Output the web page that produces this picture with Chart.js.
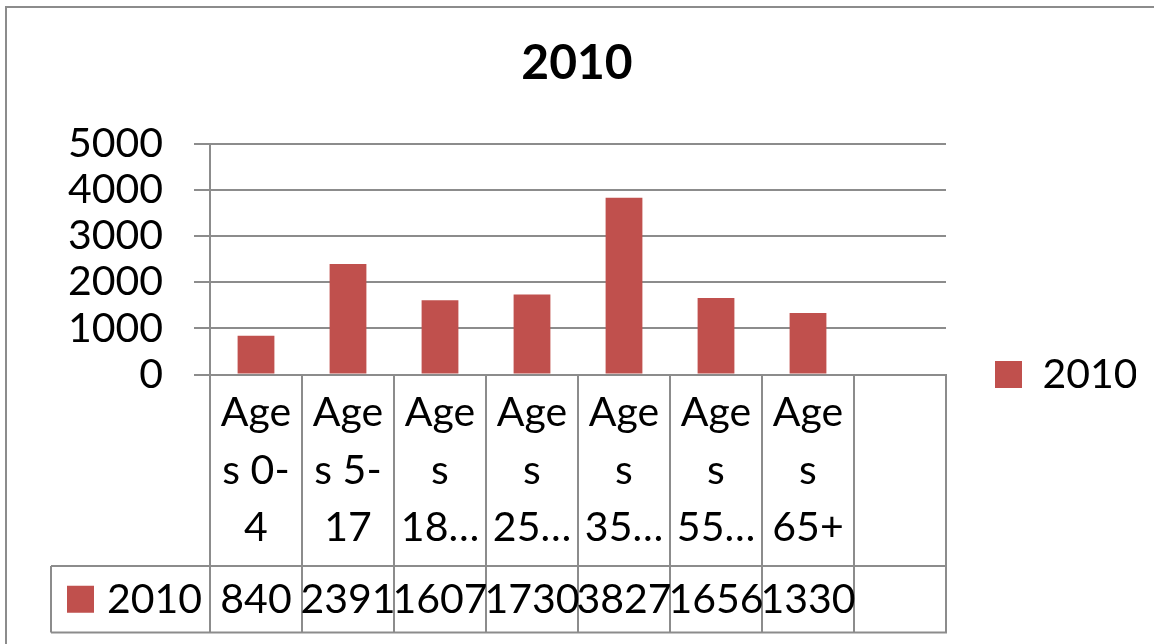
<!DOCTYPE html>
<html>
<head>
<meta charset="utf-8">
<title>2010</title>
<script src="https://cdn.jsdelivr.net/npm/chart.js@4.4.1/dist/chart.umd.min.js"></script>
<style>
  html, body { margin: 0; padding: 0; background: #ffffff; }
  canvas { display: block; }
</style>
</head>
<body>
<canvas id="chart" width="1154" height="644"></canvas>
<script>
// Series and categories
const seriesName = '2010';
const categoryLines = [
  ['Age', 's 0-', '4'],
  ['Age', 's 5-', '17'],
  ['Age', 's', '18…'],
  ['Age', 's', '25…'],
  ['Age', 's', '35…'],
  ['Age', 's', '55…'],
  ['Age', 's', '65+'],
  ['']
];
const values = [840, 2391, 1607, 1730, 3827, 1656, 1330, null];
const yMin = 0;
const yMax = 5000;
const yStep = 1000;

// Styling
const FONT = 'Lato';
const LINE = '#8c8c8c';
const BAR = '#C0504D';
const TEXT = '#000000';
const SIDE = 18; // outer padding on both sides

// Frame and the data table under the category axis
const dataTablePlugin = {
  id: 'dataTable',
  beforeDraw(chart) {
    const ctx = chart.ctx;
    ctx.save();
    ctx.fillStyle = '#ffffff';
    ctx.fillRect(0, 0, chart.width, chart.height);
    ctx.strokeStyle = LINE;
    ctx.lineWidth = 2;
    ctx.beginPath();
    ctx.moveTo(6, chart.height);
    ctx.lineTo(6, 7);
    ctx.lineTo(chart.width, 7);
    ctx.stroke();
    ctx.restore();
  },
  afterDraw(chart) {
    const ctx = chart.ctx;
    const area = chart.chartArea;
    const x = chart.scales.x;
    const ds = chart.data.datasets[0];
    const rowTop = area.bottom + 191.5;
    const rowBottom = area.bottom + 258;
    const tableLeft = 51;
    const rowMid = (rowTop + rowBottom) / 2;

    ctx.save();
    // table rules
    ctx.strokeStyle = LINE;
    ctx.lineWidth = 2;
    ctx.beginPath();
    ctx.moveTo(tableLeft, rowTop); ctx.lineTo(area.right, rowTop);
    ctx.moveTo(tableLeft, rowBottom); ctx.lineTo(area.right + 1, rowBottom);
    ctx.moveTo(tableLeft, rowTop); ctx.lineTo(tableLeft, rowBottom);
    ctx.stroke();

    // series key inside the table
    ctx.fillStyle = ds.backgroundColor;
    ctx.fillRect(tableLeft + 16, rowMid - 13.5, 27, 27);
    ctx.fillStyle = TEXT;
    ctx.font = '41px ' + FONT;
    ctx.textBaseline = 'middle';
    ctx.textAlign = 'left';
    ctx.fillText(ds.label, tableLeft + 56, rowMid + 1);

    // values row
    ctx.textAlign = 'center';
    ds.data.forEach((v, i) => {
      if (v === null || v === undefined) return;
      ctx.fillText(String(v), x.getPixelForValue(i), rowMid + 1);
    });
    ctx.restore();
  }
};

new Chart(document.getElementById('chart'), {
  type: 'bar',
  data: {
    labels: categoryLines,
    datasets: [{
      label: seriesName,
      data: values,
      backgroundColor: BAR,
      borderWidth: 0,
      categoryPercentage: 1.0,
      barPercentage: 0.4
    }]
  },
  options: {
    responsive: false,
    animation: false,
    devicePixelRatio: 1,
    layout: { padding: { left: SIDE, right: SIDE, top: 0, bottom: 0 } },
    plugins: {
      legend: {
        display: true,
        position: 'right',
        align: 'center',
        maxWidth: 190,
        title: { display: true, text: '', font: { size: 1, lineHeight: 1 }, padding: { top: 0, bottom: 104 } },
        labels: {
          color: TEXT,
          font: { family: FONT, size: 41 },
          boxWidth: 27,
          boxHeight: 27,
          padding: 49
        }
      },
      tooltip: { enabled: false },
      title: {
        display: true,
        text: seriesName,
        color: TEXT,
        font: { family: FONT, size: 48, weight: 'bold' },
        padding: { top: 35, bottom: 51 }
      }
    },
    scales: {
      x: {
        offset: true,
        grid: {
          offset: true,
          drawOnChartArea: false,
          drawTicks: true,
          tickLength: 258,
          color: LINE,
          lineWidth: 2
        },
        border: { display: true, color: LINE, width: 2 },
        ticks: {
          color: TEXT,
          font: { family: FONT, size: 41, lineHeight: 1.4 },
          padding: -248,
          maxRotation: 0,
          minRotation: 0,
          autoSkip: false
        },
        afterFit(scale) { scale.height = 269.5; }
      },
      y: {
        min: yMin,
        max: yMax,
        ticks: {
          stepSize: yStep,
          autoSkip: false,
          color: TEXT,
          font: { family: FONT, size: 41 },
          padding: 31,
          callback: (v) => String(v)
        },
        grid: {
          color: LINE,
          lineWidth: 2,
          drawTicks: true,
          tickLength: 16
        },
        border: { display: true, color: LINE, width: 2 },
        afterFit(scale) { scale.width = 210 - SIDE; }
      }
    }
  },
  plugins: [dataTablePlugin]
});
</script>
</body>
</html>
